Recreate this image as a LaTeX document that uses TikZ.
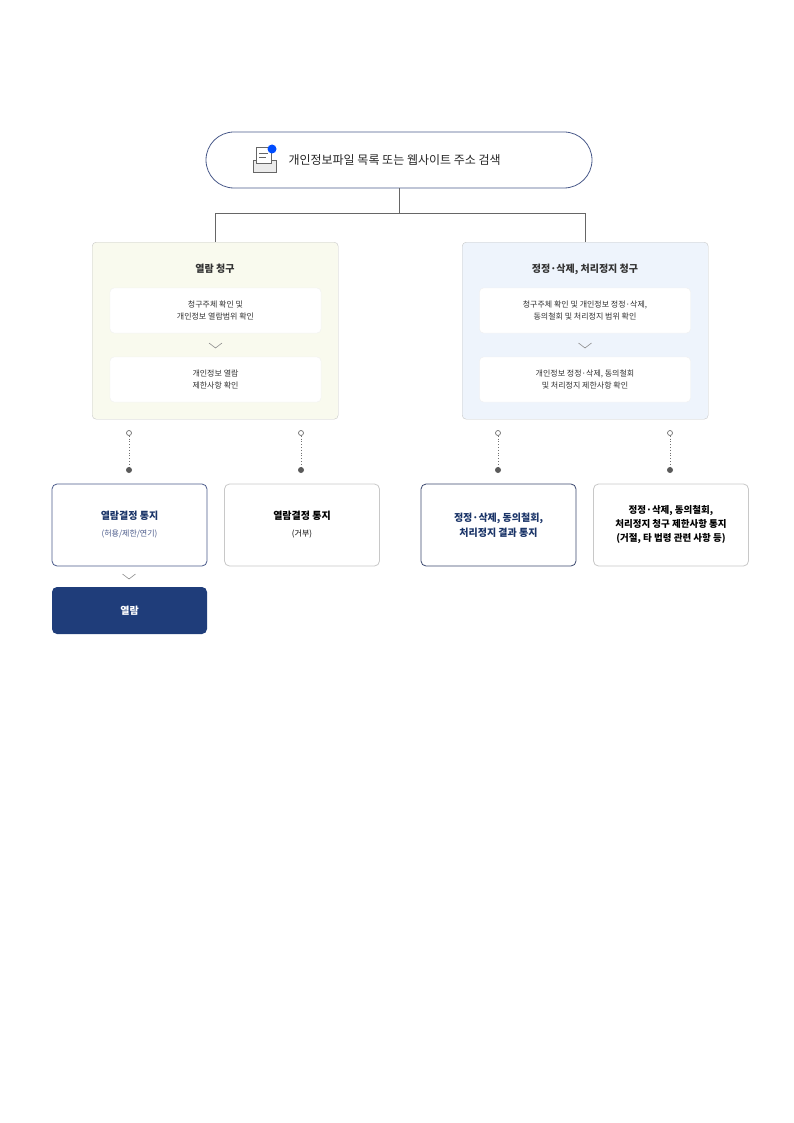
\documentclass[tikz,border=0pt]{standalone}
\usepackage{fontspec}
\setmainfont{Noto Sans CJK KR}
\usetikzlibrary{positioning}
\definecolor{navy}{HTML}{1F3D7A}
\definecolor{pillline}{HTML}{4A5A8A}
\definecolor{greyline}{HTML}{C8C8C8}
\definecolor{leftfill}{HTML}{F9FAEE}
\definecolor{rightfill}{HTML}{EEF4FC}
\definecolor{dotgrey}{HTML}{707070}
\tikzset{
  panel/.style={draw=greyline, rounded corners=4pt, minimum width=246pt, minimum height=177pt, anchor=north west},
  innerbox/.style={draw=black!6, fill=white, rounded corners=4pt, minimum width=211pt, minimum height=45pt, font=\fontsize{8}{12}\selectfont, align=center, text=black!80},
  resultbox/.style={rounded corners=5pt, minimum width=155pt, minimum height=82pt, font=\fontsize{10}{15}\selectfont, align=center, fill=white, line width=0.8pt},
  chev/.style={draw=black!45, line width=0.6pt},
  dotline/.style={draw=dotgrey, dotted, line width=0.8pt},
}
\begin{document}
\begin{tikzpicture}[x=1pt,y=-1pt]
  \useasboundingbox (0,0) rectangle (794,1123);
  % top search pill
  \node[draw=pillline, line width=0.8pt, rounded corners=28pt, minimum width=386pt, minimum height=56pt] (search) at (399,160) {};
  \node[font=\fontsize{12}{14}\selectfont, text=black!85, anchor=west] (searchtxt) at (285,160) {개인정보파일 목록 또는 웹사이트 주소 검색};
  % icon
  \draw[black!60, fill=black!8, line width=0.6pt] (253,160) rectangle (276,172);
  \draw[black!60, fill=white, line width=0.6pt] (256,147) rectangle (271,163);
  \draw[black!60, line width=0.6pt] (259,153) -- (268,153) (259,157) -- (266,157);
  \fill[blue!70!cyan] (272,149) circle (4.5pt);
  % panels
  \node[panel, fill=leftfill] (viewreq) at (92,242) {};
  \node[panel, fill=rightfill] (fixreq) at (462,242) {};
  \coordinate (split) at (399,213);
  \draw[black!60, line width=0.8pt] (search.south) -- (split) -| (viewreq.north);
  \draw[black!60, line width=0.8pt] (split) -| (fixreq.north);
  % left panel content
  \node[font=\fontsize{10}{12}\selectfont\bfseries, text=black!80] (viewtitle) at (215,269) {열람 청구};
  \node[innerbox] (viewa) at (215.5,310.5) {청구주체 확인 및\\개인정보 열람범위 확인};
  \node[innerbox] (viewb) at (215.5,379.5) {개인정보 열람\\제한사항 확인};
  \draw[chev] (209,343) -- (215.5,348) -- (222,343);
  % right panel content
  \node[font=\fontsize{10}{12}\selectfont\bfseries, text=black!80] (fixtitle) at (585,269) {정정·삭제, 처리정지 청구};
  \node[innerbox] (fixa) at (585,310.5) {청구주체 확인 및 개인정보 정정·삭제,\\동의철회 및 처리정지 범위 확인};
  \node[innerbox] (fixb) at (585,379.5) {개인정보 정정·삭제, 동의철회\\및 처리정지 제한사항 확인};
  \draw[chev] (578.5,343) -- (585,348) -- (591.5,343);
  % results
  \node[resultbox, draw=pillline] (allow) at (129.5,525) {\textcolor{navy!85!black}{\textbf{열람결정 통지}}\\[2pt]{\fontsize{8}{12}\selectfont\textcolor{pillline}{(허용/제한/연기)}}};
  \node[resultbox, draw=greyline] (deny) at (302,525) {\textbf{열람결정 통지}\\[2pt]{\fontsize{8}{12}\selectfont(거부)}};
  \node[resultbox, draw=pillline!80!black] (fixdone) at (498.5,525) {\textcolor{navy!85!black}{\textbf{정정·삭제, 동의철회,}}\\\textcolor{navy!85!black}{\textbf{처리정지 결과 통지}}};
  \node[resultbox, draw=greyline, font=\fontsize{9.5}{14}\selectfont] (fixlimit) at (671,525) {\textbf{정정·삭제, 동의철회,}\\\textbf{처리정지 청구 제한사항 통지}\\\textbf{(거절, 타 법령 관련 사항 등)}};
  % dotted links
  \foreach \nm/\xx in {allow/129, deny/301, fixdone/498, fixlimit/670} {
    \coordinate (\nm top) at (\xx,433);
    \coordinate (\nm dot) at (\xx,470);
    \draw[dotline] (\nm top) -- (\nm dot);
    \draw[dotgrey, fill=white, line width=0.7pt] (\nm top) circle (2.5pt);
    \fill[dotgrey!80!black] (\nm dot) circle (3pt);
  }
  % view
  \draw[chev] (122.5,574) -- (129,579) -- (135.5,574);
  \node[fill=navy, rounded corners=5pt, minimum width=155pt, minimum height=47pt, text=white, font=\fontsize{10}{12}\selectfont\bfseries] (view) at (129.5,610.5) {열람};
\end{tikzpicture}
\end{document}
